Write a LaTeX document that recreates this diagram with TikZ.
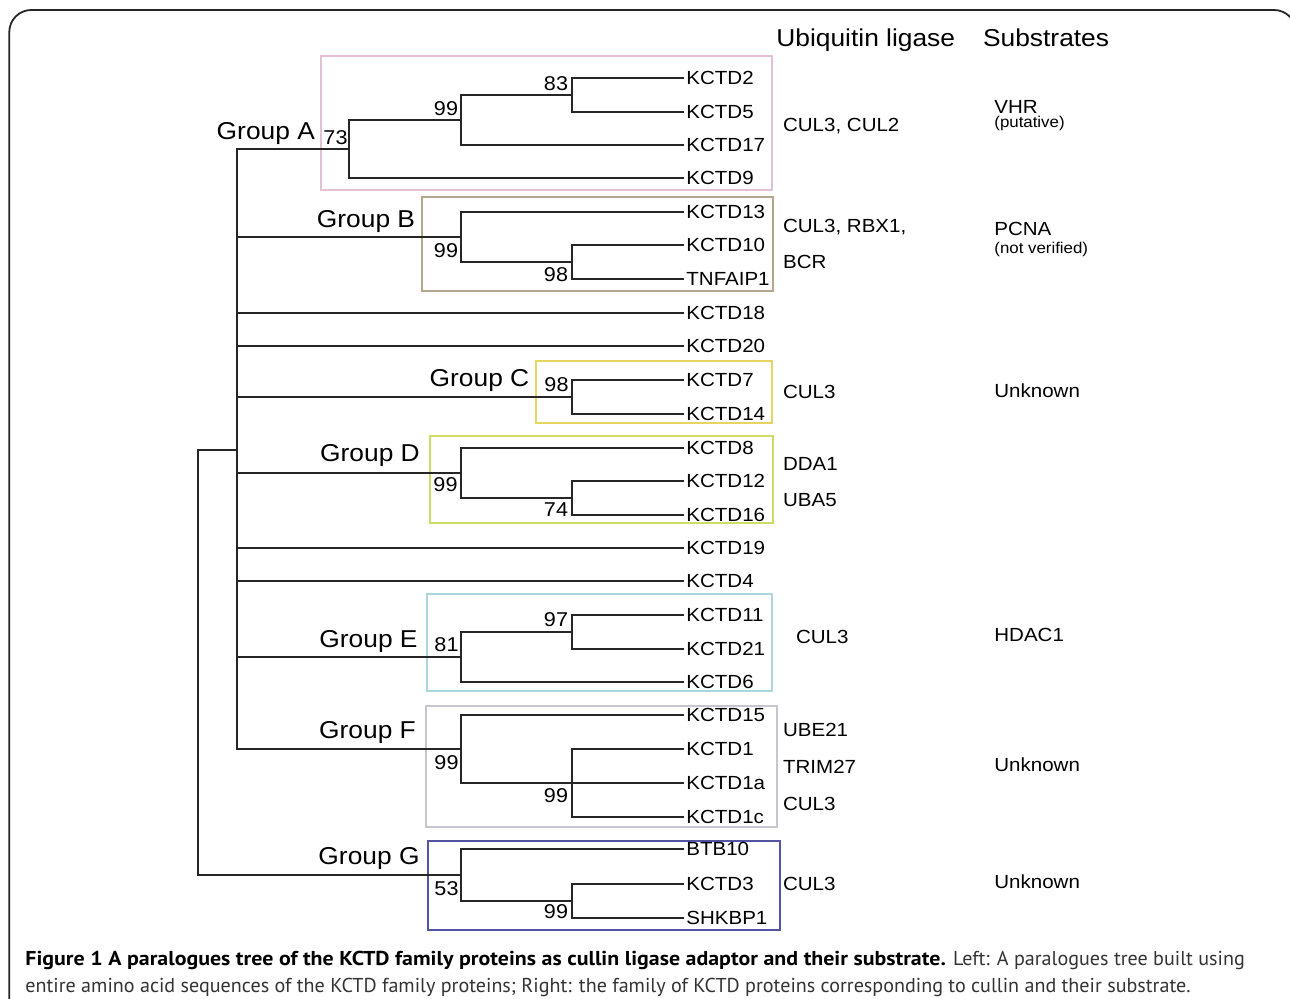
\documentclass[tikz,border=0pt]{standalone}
\usepackage{fontspec}
\setmainfont{Liberation Sans}[FakeStretch=1.08]
\newfontfamily\capfont{PT Sans}[BoldFeatures={FakeStretch=1.09}]
\usepackage{tikz}

\definecolor{boxa}{RGB}{228,192,212}
\definecolor{boxb}{RGB}{182,166,142}
\definecolor{boxc}{RGB}{232,212,96}
\definecolor{boxd}{RGB}{206,220,104}
\definecolor{boxe}{RGB}{172,214,222}
\definecolor{boxf}{RGB}{198,198,208}
\definecolor{boxg}{RGB}{84,84,164}

\begin{document}
\begin{tikzpicture}[x=0.5pt, y=-0.5pt,
		tip_style/.style={anchor=west, inner sep=1pt, font=\fontsize{9.5}{11}\selectfont},
		supp_style/.style={inner sep=0pt, font=\fontsize{10}{12}\selectfont},
		group_style/.style={anchor=base, inner sep=0pt, font=\fontsize{12.2}{14}\selectfont},
		side_style/.style={anchor=base west, inner sep=0pt, font=\fontsize{9.5}{11}\selectfont},
		note_style/.style={anchor=base west, inner sep=0pt, font=\fontsize{7.8}{9}\selectfont},
		cap_style/.style={anchor=base west, inner sep=0pt, font=\capfont\fontsize{10.05}{12}\selectfont},
		edge_style/.style={draw=black!85, line width=1pt},
		box_style/.style={line width=1pt}]

	\useasboundingbox (0,0) rectangle (1290,999);
	\begin{scope}
		\clip (0,0) rectangle (1290,999);
		\draw[black!85, line width=0.9pt, rounded corners=11] (9.3,10) rectangle (1296,1040);
	\end{scope}

	% group frames
	\draw[box_style, boxa] (321,56) rectangle (772,190);
	\draw[box_style, boxb] (422,197) rectangle (773,291);
	\draw[box_style, boxc] (536,361) rectangle (772,423);
	\draw[box_style, boxd] (430,436) rectangle (773,523);
	\draw[box_style, boxe] (427,594) rectangle (772,691);
	\draw[box_style, boxf] (426,706) rectangle (777,827);
	\draw[box_style, boxg] (428,841) rectangle (780,930);

	% leaves
	\node[tip_style] (kctd2) at (684,78) {KCTD2};
	\node[tip_style] (kctd5) at (684,112) {KCTD5};
	\node[tip_style] (kctd17) at (684,145) {KCTD17};
	\node[tip_style] (kctd9) at (684,178) {KCTD9};
	\node[tip_style] (kctd13) at (684,212) {KCTD13};
	\node[tip_style] (kctd10) at (684,245) {KCTD10};
	\node[tip_style] (tnfaip1) at (684,279) {TNFAIP1};
	\node[tip_style] (kctd18) at (684,313) {KCTD18};
	\node[tip_style] (kctd20) at (684,346) {KCTD20};
	\node[tip_style] (kctd7) at (684,380) {KCTD7};
	\node[tip_style] (kctd14) at (684,414) {KCTD14};
	\node[tip_style] (kctd8) at (684,448) {KCTD8};
	\node[tip_style] (kctd12) at (684,481) {KCTD12};
	\node[tip_style] (kctd16) at (684,515) {KCTD16};
	\node[tip_style] (kctd19) at (684,548) {KCTD19};
	\node[tip_style] (kctd4) at (684,581) {KCTD4};
	\node[tip_style] (kctd11) at (684,615) {KCTD11};
	\node[tip_style] (kctd21) at (684,649) {KCTD21};
	\node[tip_style] (kctd6) at (684,682) {KCTD6};
	\node[tip_style] (kctd15) at (684,715) {KCTD15};
	\node[tip_style] (kctd1) at (684,749) {KCTD1};
	\node[tip_style] (kctd1a) at (684,783) {KCTD1a};
	\node[tip_style] (kctd1c) at (684,817) {KCTD1c};
	\node[tip_style] (btb10) at (684,849) {BTB10};
	\node[tip_style] (kctd3) at (684,884) {KCTD3};
	\node[tip_style] (shkbp1) at (684,918) {SHKBP1};

	% inner nodes
	\coordinate (root) at (198,662);
	\coordinate (spine) at (237,450);
	\coordinate (a73) at (349,149);
	\coordinate (a99) at (461,120);
	\coordinate (a83) at (572,95);
	\coordinate (b99) at (461,237);
	\coordinate (b98) at (572,262);
	\coordinate (c98) at (572,397);
	\coordinate (d99) at (461,473);
	\coordinate (d74) at (572,498);
	\coordinate (e81) at (461,657);
	\coordinate (e97) at (572,632);
	\coordinate (f99) at (461,749);
	\coordinate (f99b) at (572,783);
	\coordinate (g53) at (461,875);
	\coordinate (g99) at (572,901);

	\draw[edge_style] (root) |- (spine);
	\draw[edge_style] (root) |- (g53);
	\draw[edge_style] (spine) |- (a73);
	\draw[edge_style] (spine) |- (b99);
	\draw[edge_style] (spine) |- (kctd18);
	\draw[edge_style] (spine) |- (kctd20);
	\draw[edge_style] (spine) |- (c98);
	\draw[edge_style] (spine) |- (d99);
	\draw[edge_style] (spine) |- (kctd19);
	\draw[edge_style] (spine) |- (kctd4);
	\draw[edge_style] (spine) |- (e81);
	\draw[edge_style] (spine) |- (f99);
	\draw[edge_style] (a73) |- (a99);
	\draw[edge_style] (a73) |- (kctd9);
	\draw[edge_style] (a99) |- (a83);
	\draw[edge_style] (a99) |- (kctd17);
	\draw[edge_style] (a83) |- (kctd2);
	\draw[edge_style] (a83) |- (kctd5);
	\draw[edge_style] (b99) |- (kctd13);
	\draw[edge_style] (b99) |- (b98);
	\draw[edge_style] (b98) |- (kctd10);
	\draw[edge_style] (b98) |- (tnfaip1);
	\draw[edge_style] (c98) |- (kctd7);
	\draw[edge_style] (c98) |- (kctd14);
	\draw[edge_style] (d99) |- (kctd8);
	\draw[edge_style] (d99) |- (d74);
	\draw[edge_style] (d74) |- (kctd12);
	\draw[edge_style] (d74) |- (kctd16);
	\draw[edge_style] (e81) |- (e97);
	\draw[edge_style] (e81) |- (kctd6);
	\draw[edge_style] (e97) |- (kctd11);
	\draw[edge_style] (e97) |- (kctd21);
	\draw[edge_style] (f99) |- (kctd15);
	\draw[edge_style] (f99) |- (f99b);
	\draw[edge_style] (f99b) |- (kctd1);
	\draw[edge_style] (f99b) |- (kctd1a);
	\draw[edge_style] (f99b) |- (kctd1c);
	\draw[edge_style] (g53) |- (btb10);
	\draw[edge_style] (g53) |- (g99);
	\draw[edge_style] (g99) |- (kctd3);
	\draw[edge_style] (g99) |- (shkbp1);

	% bootstrap values
	\node[supp_style] (s83) at (556,83.3) {83};
	\node[supp_style] (s99a) at (446,109) {99};
	\node[supp_style] (s73) at (335.5,137.7) {73};
	\node[supp_style] (s99b) at (446,250.7) {99};
	\node[supp_style] (s98b) at (556,275) {98};
	\node[supp_style] (s98c) at (556.5,385) {98};
	\node[supp_style] (s99d) at (445.5,485) {99};
	\node[supp_style] (s74) at (556,510) {74};
	\node[supp_style] (s97) at (556,620) {97};
	\node[supp_style] (s81) at (446.5,645) {81};
	\node[supp_style] (s99f) at (446.5,762.7) {99};
	\node[supp_style] (s99fb) at (556,796) {99};
	\node[supp_style] (s53) at (446.5,888.3) {53};
	\node[supp_style] (s99g) at (556,911.7) {99};

	% group names
	\node[group_style] (grpa) at (265.8,140) {Group A};
	\node[group_style] (grpb) at (366,227.3) {Group B};
	\node[group_style] (grpc) at (479.5,387) {Group C};
	\node[group_style] (grpd) at (370,461.3) {Group D};
	\node[group_style] (grpe) at (368.5,647) {Group E};
	\node[group_style] (grpf) at (367.5,738.7) {Group F};
	\node[group_style] (grpg) at (369,864.7) {Group G};

	% right columns
	\node[group_style, anchor=base west] (hlig) at (776,46.5) {Ubiquitin ligase};
	\node[group_style, anchor=base west] (hsub) at (982.7,46.5) {Substrates};
	\node[side_style] (liga) at (782.7,132) {CUL3, CUL2};
	\node[side_style] (suba) at (994,113.3) {VHR};
	\node[note_style] (nota) at (994,128) {(putative)};
	\node[side_style] (ligb) at (782.7,232.3) {CUL3, RBX1,};
	\node[side_style] (ligb2) at (782.7,268.3) {BCR};
	\node[side_style] (subb) at (994,236) {PCNA};
	\node[note_style] (notb) at (994,253.3) {(not verified)};
	\node[side_style] (ligc) at (782.7,398.5) {CUL3};
	\node[side_style] (subc) at (994,398) {Unknown};
	\node[side_style] (ligd) at (782.7,471) {DDA1};
	\node[side_style] (ligd2) at (782.7,507) {UBA5};
	\node[side_style] (lige) at (795.7,643.8) {CUL3};
	\node[side_style] (sube) at (994,641.3) {HDAC1};
	\node[side_style] (ligf) at (782.7,736) {UBE21};
	\node[side_style] (ligf2) at (782.7,773) {TRIM27};
	\node[side_style] (ligf3) at (782.7,810.5) {CUL3};
	\node[side_style] (subf) at (994,771) {Unknown};
	\node[side_style] (ligg) at (782.7,890.5) {CUL3};
	\node[side_style] (subg) at (994,888.5) {Unknown};

	% caption
	\node[cap_style] (cap1) at (25,965) {{\bfseries Figure 1 A paralogues tree of the KCTD family proteins as cullin ligase adaptor and their substrate.} {\color{black!80}Left: A paralogues tree built using}};
	\node[cap_style, black!80] (cap2) at (25,992) {entire amino acid sequences of the KCTD family proteins; Right: the family of KCTD proteins corresponding to cullin and their substrate.};
\end{tikzpicture}
\end{document}
